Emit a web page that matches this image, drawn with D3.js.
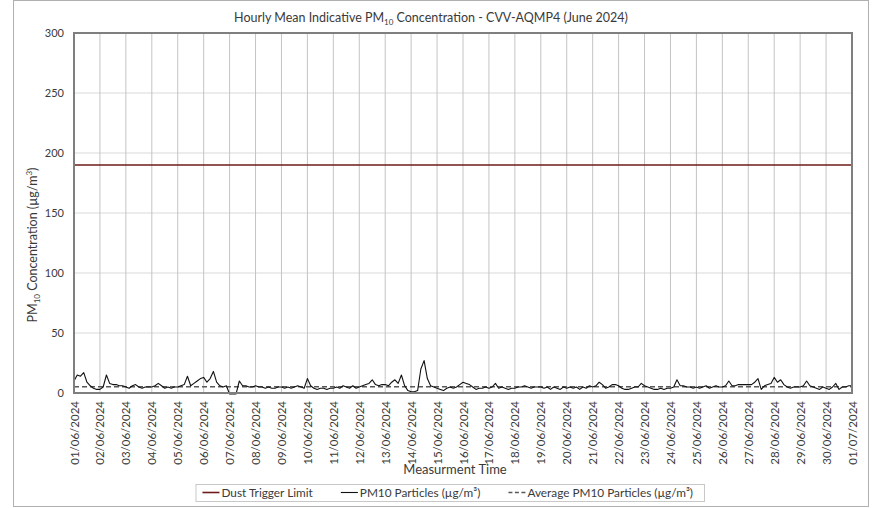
<!DOCTYPE html>
<html>
<head>
<meta charset="utf-8">
<script src="https://d3js.org/d3.v7.min.js"></script>
<style>
body { margin: 0; background: #fff; }
text { font-family: Lato, "Open Sans", sans-serif; fill: #3a3a3a; }
</style>
</head>
<body>
<div id="chart"></div>
<script>
// ---------------------------------------Data---------------------------------------
var startDate = new Date(2024, 5, 1, 0, 0);
var endDate = new Date(2024, 6, 1, 0, 0);
var stepHours = 3;

// PM10 readings (ug/m3), one every 3 hours from 01/06 00:00 to 01/07 00:00
var pm10Values = [
  10, 15, 14, 17, 9, 6, 4, 3,        // 01/06
  3, 5, 15, 8, 7, 7, 6, 6,           // 02/06
  5, 4, 6, 7, 5, 4, 5, 5,            // 03/06
  5, 6, 8, 6, 4, 5, 4, 5,            // 04/06
  5, 6, 7, 14, 6, 8, 10, 12,         // 05/06
  13, 9, 12, 18, 9, 6, 5, 6,         // 06/06
  -0.8, -0.8, -0.8, 10, 6, 6, 5, 5,  // 07/06
  6, 5, 5, 4, 5, 4, 4, 5,            // 08/06
  5, 4, 5, 4, 5, 6, 5, 4,            // 09/06
  12, 6, 4, 3, 4, 4, 3, 4,           // 10/06
  4, 5, 4, 6, 5, 4, 6, 4,            // 11/06
  5, 6, 7, 8, 11, 7, 6, 7,           // 12/06
  7, 6, 9, 11, 8, 15, 6, 2,          // 13/06
  1, 1, 2, 20, 27, 12, 6, 5,         // 14/06
  4, 3, 2, 4, 5, 4, 5, 7,            // 15/06
  9, 8, 7, 5, 3, 4, 4, 5,            // 16/06
  4, 5, 8, 4, 5, 4, 3, 4,            // 17/06
  4, 5, 5, 6, 5, 4, 5, 5,            // 18/06
  5, 4, 5, 3, 5, 4, 3, 5,            // 19/06
  4, 5, 4, 5, 3, 5, 4, 6,            // 20/06
  5, 6, 9, 7, 4, 5, 7, 7,            // 21/06
  6, 4, 3, 3, 4, 5, 5, 8,            // 22/06
  6, 5, 4, 3, 3, 4, 3, 4,            // 23/06
  4, 5, 11, 6, 6, 5, 5, 4,           // 24/06
  5, 4, 5, 6, 4, 5, 6, 5,            // 25/06
  5, 6, 10, 6, 6, 7, 7, 7,           // 26/06
  7, 7, 9, 12, 3, 6, 7, 8,           // 27/06
  13, 9, 11, 7, 5, 4, 5, 5,          // 28/06
  5, 6, 10, 6, 5, 4, 3, 5,           // 29/06
  4, 3, 5, 8, 3, 5, 5, 6,            // 30/06
  6                                  // 01/07
];

var averageValue = 5.2;
var triggerLimit = 190;
var yTicks = [0, 50, 100, 150, 200, 250, 300];
var legendLabels = ["Dust Trigger Limit", "PM10 Particles (\u00b5g/m\u00b3)", "Average PM10 Particles (\u00b5g/m\u00b3)"];

// ---------------------------------------Dimensions---------------------------------------
var svgSize = {width: 873, height: 508};
var plot = {left: 74, top: 33, width: 778, height: 360};

var svg = d3.select("#chart")
  .append("svg")
    .attr("width", svgSize.width)
    .attr("height", svgSize.height);

// outer chart frame
svg.append("rect")
  .attr("x", 13.5).attr("y", 0.5)
  .attr("width", 855).attr("height", 506)
  .attr("fill", "#fff")
  .attr("stroke", "#b0b0b0");

var g = svg.append("g")
  .attr("transform", "translate(" + plot.left + "," + plot.top + ")");

// ---------------------------------------Scales---------------------------------------
var x = d3.scaleTime()
  .domain([startDate, endDate])
  .range([0, plot.width]);

var y = d3.scaleLinear()
  .domain([0, 300])
  .range([plot.height, 0]);

var points = pm10Values.map(function(v, i) {
  return {t: d3.timeHour.offset(startDate, i * stepHours), v: v};
});

// ---------------------------------------Grid---------------------------------------
g.append("g")
  .selectAll("line")
  .data(yTicks)
  .enter().append("line")
    .attr("x1", 0).attr("x2", plot.width)
    .attr("y1", function(d) { return y(d); })
    .attr("y2", function(d) { return y(d); })
    .attr("stroke", "#d9d9d9");

g.append("g")
  .selectAll("line")
  .data(d3.timeDay.range(startDate, endDate))
  .enter().append("line")
    .attr("x1", function(d) { return x(d); })
    .attr("x2", function(d) { return x(d); })
    .attr("y1", 0).attr("y2", plot.height)
    .attr("stroke", "#c4c4c4");

// ---------------------------------------Axes---------------------------------------
var yAxis = g.append("g")
  .call(d3.axisLeft(y).tickValues(yTicks).tickSize(0).tickPadding(10));
yAxis.select(".domain").remove();
yAxis.selectAll("text")
  .attr("font-size", 11)
  .attr("font-family", "Lato, sans-serif")
  .attr("fill", "#3a3a3a");

var xAxis = g.append("g")
  .attr("transform", "translate(0," + plot.height + ")")
  .call(d3.axisBottom(x)
    .ticks(d3.timeDay.every(1))
    .tickFormat(d3.timeFormat("%d/%m/%Y"))
    .tickSize(0));
xAxis.select(".domain").remove();
xAxis.selectAll("text")
  .attr("font-size", 11.5)
  .attr("font-family", "Lato, sans-serif")
  .attr("fill", "#3a3a3a")
  .attr("text-anchor", "end")
  .attr("transform", "rotate(-90)")
  .attr("x", -8)
  .attr("y", 0)
  .attr("dy", "0.35em");

// ---------------------------------------Series---------------------------------------
g.append("line")
  .attr("x1", 0).attr("x2", plot.width)
  .attr("y1", y(triggerLimit)).attr("y2", y(triggerLimit))
  .attr("stroke", "#6e1a1a")
  .attr("stroke-width", 1.6);

g.append("line")
  .attr("x1", 0).attr("x2", plot.width)
  .attr("y1", y(averageValue)).attr("y2", y(averageValue))
  .attr("stroke", "#595959")
  .attr("stroke-width", 1.3)
  .attr("stroke-dasharray", "5,3");

g.append("path")
  .datum(points)
  .attr("fill", "none")
  .attr("stroke", "#111")
  .attr("stroke-width", 1.1)
  .attr("stroke-linejoin", "round")
  .attr("d", d3.line()
    .x(function(d) { return x(d.t); })
    .y(function(d) { return y(d.v); }));

// plot border
g.append("rect")
  .attr("width", plot.width).attr("height", plot.height)
  .attr("fill", "none")
  .attr("stroke", "#7f7f7f")
  .attr("stroke-width", 2);

// ---------------------------------------Titles---------------------------------------
var title = svg.append("text")
  .attr("x", 431).attr("y", 22)
  .attr("text-anchor", "middle")
  .attr("font-size", 12.5)
  .attr("fill", "#222");
title.append("tspan").text("Hourly Mean Indicative PM");
title.append("tspan").attr("font-size", 8).attr("dy", 3).text("10");
title.append("tspan").attr("dy", -3).text(" Concentration - CVV-AQMP4 (June 2024)");

svg.append("text")
  .attr("x", 455).attr("y", 474)
  .attr("text-anchor", "middle")
  .attr("font-size", 13)
  .attr("fill", "#222")
  .text("Measurment Time");

var yTitle = svg.append("text")
  .attr("transform", "translate(37,245) rotate(-90)")
  .attr("text-anchor", "middle")
  .attr("font-size", 12.5)
  .attr("fill", "#222");
yTitle.append("tspan").text("PM");
yTitle.append("tspan").attr("font-size", 8).attr("dy", 3).text("10");
yTitle.append("tspan").attr("dy", -3).text(" Concentration (\u00b5g/m");
yTitle.append("tspan").attr("font-size", 8).attr("dy", -5).text("3");
yTitle.append("tspan").attr("dy", 5).text(")");

// ---------------------------------------Legend---------------------------------------
var legendStyles = [
  {stroke: "#6e1a1a", dash: null, width: 1.6},
  {stroke: "#111", dash: null, width: 1.1},
  {stroke: "#595959", dash: "4,2.5", width: 1.3}
];
var legend = svg.append("g");
var lx = 0, lineLen = 17, gap = 28, legendY = 492.5;
legendLabels.forEach(function(label, i) {
  var st = legendStyles[i];
  legend.append("line")
    .attr("x1", lx).attr("x2", lx + lineLen)
    .attr("y1", legendY).attr("y2", legendY)
    .attr("stroke", st.stroke)
    .attr("stroke-width", st.width)
    .attr("stroke-dasharray", st.dash);
  var t = legend.append("text")
    .attr("x", lx + lineLen + 2).attr("y", legendY)
    .attr("dy", "0.35em")
    .attr("font-size", 11.8)
    .attr("fill", "#222")
    .text(label);
  lx += lineLen + 2 + t.node().getComputedTextLength() + gap;
});
var legendWidth = lx - gap;
var legendLeft = 693 - legendWidth;
legend.attr("transform", "translate(" + legendLeft + ",0)");
svg.insert("rect", "g")
  .attr("x", legendLeft - 6.5).attr("y", 484.5)
  .attr("width", legendWidth + 18).attr("height", 17)
  .attr("fill", "#fff")
  .attr("stroke", "#c8c8c8");
</script>
</body>
</html>
